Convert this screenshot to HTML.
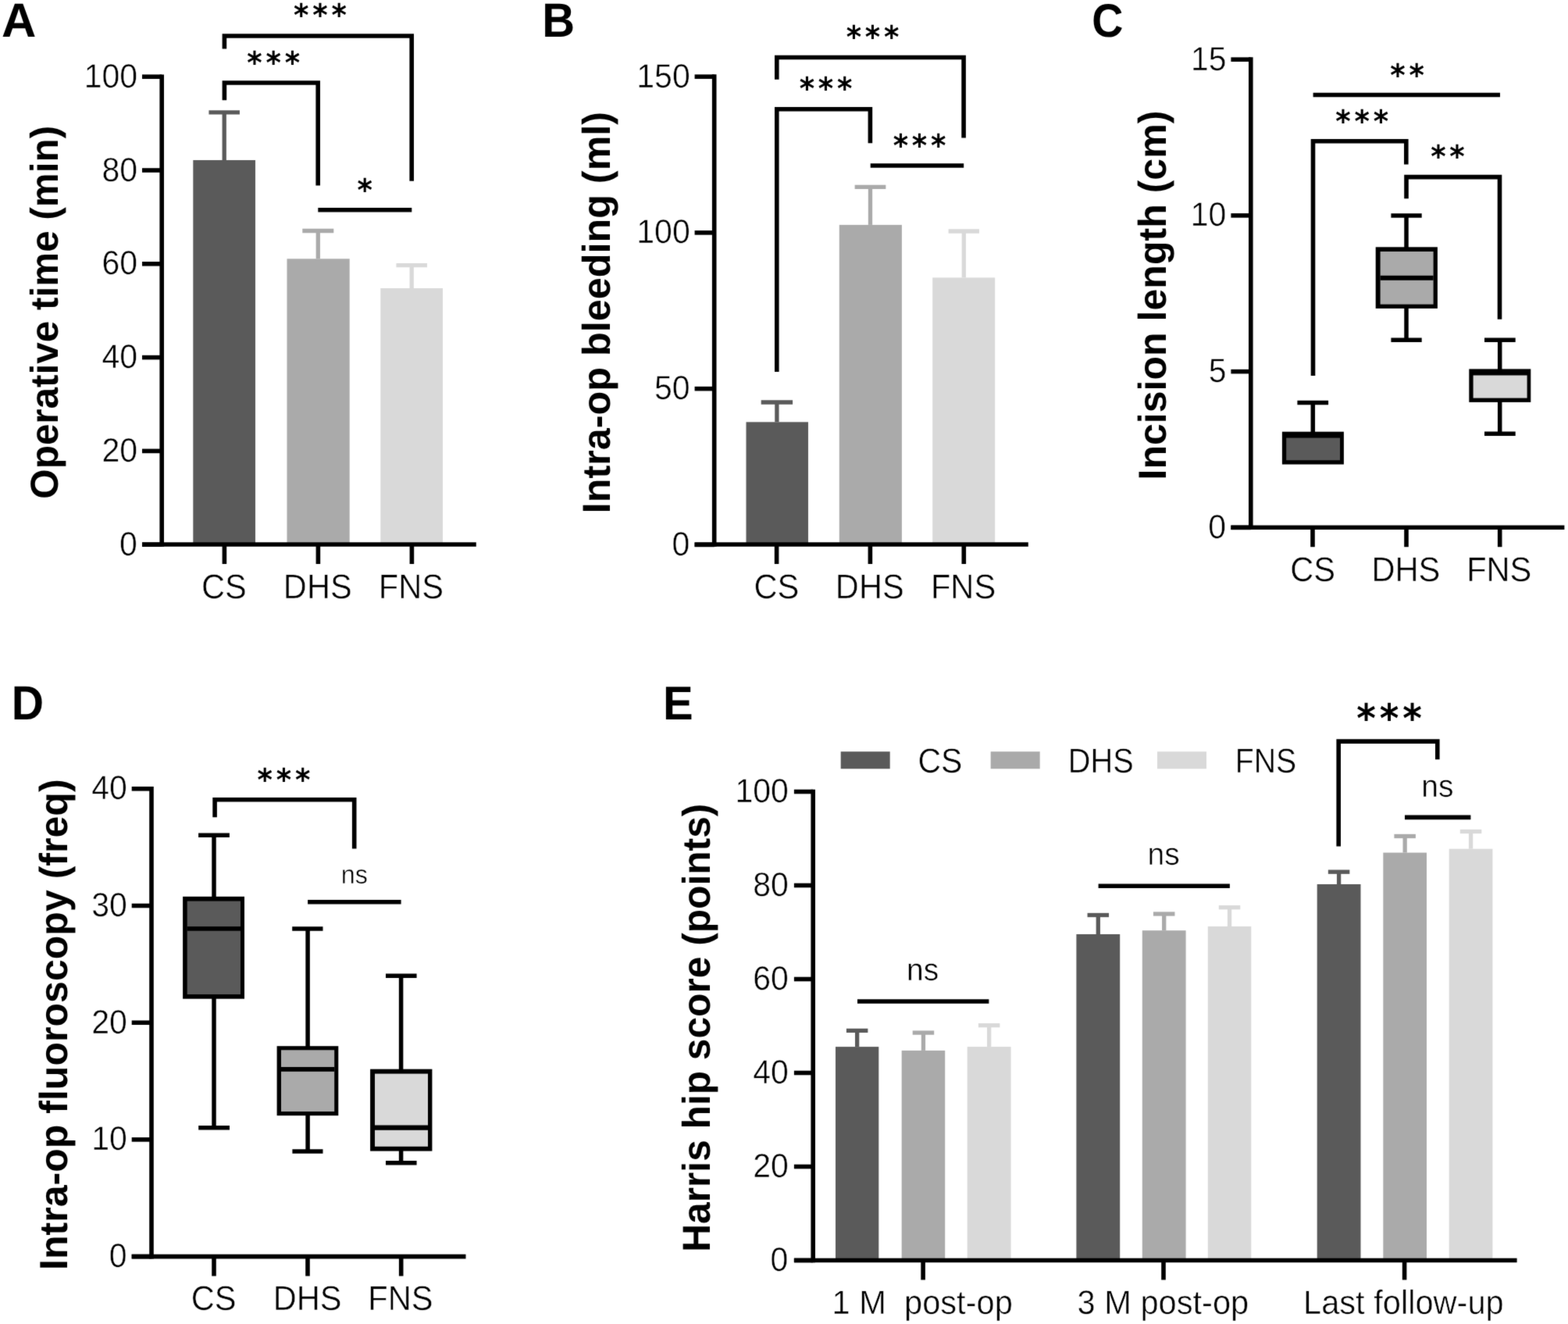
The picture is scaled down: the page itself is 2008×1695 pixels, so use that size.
<!DOCTYPE html>
<html><head><meta charset="utf-8"><title>Figure</title>
<style>html,body{margin:0;padding:0;background:#fff;} svg{display:block;} text{text-rendering:geometricPrecision;}</style></head>
<body><svg xmlns="http://www.w3.org/2000/svg" width="2008" height="1695" viewBox="0 0 2008 1695">
<defs><filter id="soft" x="0" y="0" width="2008" height="1695" filterUnits="userSpaceOnUse" color-interpolation-filters="sRGB"><feConvolveMatrix order="3" kernelMatrix="0.01134 0.08382 0.01134 0.08382 0.61935 0.08382 0.01134 0.08382 0.01134" edgeMode="duplicate"/></filter></defs>
<g filter="url(#soft)">
<rect width="2008" height="1695" fill="#fff"/>
<text transform="matrix(1.00609 0 0 1.00952 1.89 47.30)" font-family="Liberation Sans, sans-serif" font-size="61" font-weight="bold" xml:space="preserve">A</text>
<text transform="matrix(0.95063 0 0 1.00476 694.21 47.00)" font-family="Liberation Sans, sans-serif" font-size="61" font-weight="bold" xml:space="preserve">B</text>
<text transform="matrix(0.91089 0 0 0.98453 1398.30 47.01)" font-family="Liberation Sans, sans-serif" font-size="61" font-weight="bold" xml:space="preserve">C</text>
<text transform="matrix(0.93730 0 0 1.00714 14.86 921.00)" font-family="Liberation Sans, sans-serif" font-size="61" font-weight="bold" xml:space="preserve">D</text>
<text transform="matrix(0.95029 0 0 0.99524 849.01 921.10)" font-family="Liberation Sans, sans-serif" font-size="61" font-weight="bold" xml:space="preserve">E</text>
<rect x="247.30" y="205.00" width="79.70" height="492.00" fill="#5a5a5a"/>
<rect x="367.50" y="331.30" width="80.20" height="365.70" fill="#aaaaaa"/>
<rect x="487.30" y="369.00" width="79.70" height="328.00" fill="#d9d9d9"/>
<line x1="287.20" y1="205.00" x2="287.20" y2="143.80" stroke="#5a5a5a" stroke-width="5.3"/>
<line x1="267.45" y1="143.80" x2="306.95" y2="143.80" stroke="#5a5a5a" stroke-width="5.3"/>
<line x1="407.30" y1="331.30" x2="407.30" y2="295.50" stroke="#aaaaaa" stroke-width="5.3"/>
<line x1="387.30" y1="295.50" x2="427.30" y2="295.50" stroke="#aaaaaa" stroke-width="5.3"/>
<line x1="527.20" y1="369.00" x2="527.20" y2="339.60" stroke="#d9d9d9" stroke-width="5.3"/>
<line x1="507.45" y1="339.60" x2="546.95" y2="339.60" stroke="#d9d9d9" stroke-width="5.3"/>
<line x1="207.20" y1="95.40" x2="207.20" y2="699.80" stroke="#000" stroke-width="5.6"/>
<line x1="182.00" y1="98.20" x2="207.20" y2="98.20" stroke="#000" stroke-width="5.6"/>
<text transform="matrix(1.00000 0 0 1.05000 107.71 111.70)" font-family="Liberation Sans, sans-serif" font-size="41" font-weight="normal" stroke="#fff" stroke-width="0.5" stroke-linejoin="round" xml:space="preserve">100</text>
<line x1="182.00" y1="218.00" x2="207.20" y2="218.00" stroke="#000" stroke-width="5.6"/>
<text transform="matrix(1.00000 0 0 1.05000 130.44 231.50)" font-family="Liberation Sans, sans-serif" font-size="41" font-weight="normal" stroke="#fff" stroke-width="0.5" stroke-linejoin="round" xml:space="preserve">80</text>
<line x1="182.00" y1="337.80" x2="207.20" y2="337.80" stroke="#000" stroke-width="5.6"/>
<text transform="matrix(1.00000 0 0 1.05000 130.44 351.31)" font-family="Liberation Sans, sans-serif" font-size="41" font-weight="normal" stroke="#fff" stroke-width="0.5" stroke-linejoin="round" xml:space="preserve">60</text>
<line x1="182.00" y1="457.60" x2="207.20" y2="457.60" stroke="#000" stroke-width="5.6"/>
<text transform="matrix(1.00000 0 0 1.05000 130.44 471.10)" font-family="Liberation Sans, sans-serif" font-size="41" font-weight="normal" stroke="#fff" stroke-width="0.5" stroke-linejoin="round" xml:space="preserve">40</text>
<line x1="182.00" y1="577.40" x2="207.20" y2="577.40" stroke="#000" stroke-width="5.6"/>
<text transform="matrix(1.00000 0 0 1.05000 130.44 590.90)" font-family="Liberation Sans, sans-serif" font-size="41" font-weight="normal" stroke="#fff" stroke-width="0.5" stroke-linejoin="round" xml:space="preserve">20</text>
<line x1="182.00" y1="697.20" x2="207.20" y2="697.20" stroke="#000" stroke-width="5.6"/>
<text transform="matrix(1.00000 0 0 1.05000 152.91 710.71)" font-family="Liberation Sans, sans-serif" font-size="41" font-weight="normal" stroke="#fff" stroke-width="0.5" stroke-linejoin="round" xml:space="preserve">0</text>
<line x1="182.00" y1="697.00" x2="609.80" y2="697.00" stroke="#000" stroke-width="5.6"/>
<line x1="287.40" y1="697.00" x2="287.40" y2="722.00" stroke="#000" stroke-width="5.6"/>
<line x1="407.40" y1="697.00" x2="407.40" y2="722.00" stroke="#000" stroke-width="5.6"/>
<line x1="527.40" y1="697.00" x2="527.40" y2="722.00" stroke="#000" stroke-width="5.6"/>
<polyline points="287.40,62.50 287.40,46.00 527.20,46.00 527.20,231.70" fill="none" stroke="#000" stroke-width="5.6" stroke-linejoin="miter"/>
<polyline points="287.40,128.30 287.40,106.00 407.20,106.00 407.20,237.50" fill="none" stroke="#000" stroke-width="5.6" stroke-linejoin="miter"/>
<line x1="407.30" y1="268.70" x2="527.30" y2="268.70" stroke="#000" stroke-width="5.6"/>
<text transform="matrix(0.92756 0 0 0.98754 0 33.46)" x="405.37 431.46 457.55" font-family="DejaVu Sans, sans-serif" font-size="40" font-weight="bold">***</text>
<text transform="matrix(0.92756 0 0 0.98754 0 93.76)" x="340.96 367.05 393.14" font-family="DejaVu Sans, sans-serif" font-size="40" font-weight="bold">***</text>
<text transform="matrix(0.92756 0 0 0.98754 0 256.66)" x="493.29" font-family="DejaVu Sans, sans-serif" font-size="40" font-weight="bold">*</text>
<text transform="matrix(1.00000 0 0 1.05500 258.05 765.78)" font-family="Liberation Sans, sans-serif" font-size="41.6" font-weight="normal" stroke="#fff" stroke-width="0.5" stroke-linejoin="round" xml:space="preserve">CS</text>
<text transform="matrix(1.00000 0 0 1.05500 362.85 765.78)" font-family="Liberation Sans, sans-serif" font-size="41.6" font-weight="normal" stroke="#fff" stroke-width="0.5" stroke-linejoin="round" xml:space="preserve">DHS</text>
<text transform="matrix(1.00000 0 0 1.05500 484.86 765.77)" font-family="Liberation Sans, sans-serif" font-size="41.6" font-weight="normal" stroke="#fff" stroke-width="0.5" stroke-linejoin="round" xml:space="preserve">FNS</text>
<text transform="matrix(0 -0.98858 0.99912 0 74.42 638.76)" font-family="Liberation Sans, sans-serif" font-size="50" font-weight="bold" xml:space="preserve">Operative time (min)</text>
<rect x="955.50" y="540.30" width="79.50" height="156.70" fill="#5a5a5a"/>
<rect x="1074.80" y="287.90" width="80.10" height="409.10" fill="#aaaaaa"/>
<rect x="1194.20" y="355.40" width="80.00" height="341.60" fill="#d9d9d9"/>
<line x1="994.90" y1="540.30" x2="994.90" y2="515.00" stroke="#5a5a5a" stroke-width="5.3"/>
<line x1="974.70" y1="515.00" x2="1015.10" y2="515.00" stroke="#5a5a5a" stroke-width="5.3"/>
<line x1="1114.50" y1="287.90" x2="1114.50" y2="239.30" stroke="#aaaaaa" stroke-width="5.3"/>
<line x1="1094.65" y1="239.30" x2="1134.35" y2="239.30" stroke="#aaaaaa" stroke-width="5.3"/>
<line x1="1234.30" y1="355.40" x2="1234.30" y2="296.00" stroke="#d9d9d9" stroke-width="5.3"/>
<line x1="1214.60" y1="296.00" x2="1254.00" y2="296.00" stroke="#d9d9d9" stroke-width="5.3"/>
<line x1="914.70" y1="95.35" x2="914.70" y2="699.80" stroke="#000" stroke-width="5.6"/>
<line x1="889.60" y1="98.15" x2="914.70" y2="98.15" stroke="#000" stroke-width="5.6"/>
<text transform="matrix(1.00000 0 0 1.05000 815.31 111.66)" font-family="Liberation Sans, sans-serif" font-size="41" font-weight="normal" stroke="#fff" stroke-width="0.5" stroke-linejoin="round" xml:space="preserve">150</text>
<line x1="889.60" y1="297.90" x2="914.70" y2="297.90" stroke="#000" stroke-width="5.6"/>
<text transform="matrix(1.00000 0 0 1.05000 815.31 311.40)" font-family="Liberation Sans, sans-serif" font-size="41" font-weight="normal" stroke="#fff" stroke-width="0.5" stroke-linejoin="round" xml:space="preserve">100</text>
<line x1="889.60" y1="497.65" x2="914.70" y2="497.65" stroke="#000" stroke-width="5.6"/>
<text transform="matrix(1.00000 0 0 1.05000 838.04 511.15)" font-family="Liberation Sans, sans-serif" font-size="41" font-weight="normal" stroke="#fff" stroke-width="0.5" stroke-linejoin="round" xml:space="preserve">50</text>
<line x1="889.60" y1="697.40" x2="914.70" y2="697.40" stroke="#000" stroke-width="5.6"/>
<text transform="matrix(1.00000 0 0 1.05000 860.51 710.91)" font-family="Liberation Sans, sans-serif" font-size="41" font-weight="normal" stroke="#fff" stroke-width="0.5" stroke-linejoin="round" xml:space="preserve">0</text>
<line x1="889.60" y1="697.00" x2="1316.80" y2="697.00" stroke="#000" stroke-width="5.6"/>
<line x1="994.60" y1="697.00" x2="994.60" y2="722.00" stroke="#000" stroke-width="5.6"/>
<line x1="1114.40" y1="697.00" x2="1114.40" y2="722.00" stroke="#000" stroke-width="5.6"/>
<line x1="1234.30" y1="697.00" x2="1234.30" y2="722.00" stroke="#000" stroke-width="5.6"/>
<polyline points="994.80,101.70 994.80,73.50 1234.10,73.50 1234.10,176.40" fill="none" stroke="#000" stroke-width="5.6" stroke-linejoin="miter"/>
<polyline points="994.80,476.00 994.80,139.80 1114.40,139.80 1114.40,183.30" fill="none" stroke="#000" stroke-width="5.6" stroke-linejoin="miter"/>
<line x1="1114.70" y1="212.00" x2="1234.20" y2="212.00" stroke="#000" stroke-width="5.6"/>
<text transform="matrix(0.92756 0 0 0.98754 0 60.76)" x="1168.29 1194.38 1220.47" font-family="DejaVu Sans, sans-serif" font-size="40" font-weight="bold">***</text>
<text transform="matrix(0.92756 0 0 0.98754 0 127.46)" x="1103.60 1129.69 1155.78" font-family="DejaVu Sans, sans-serif" font-size="40" font-weight="bold">***</text>
<text transform="matrix(0.92756 0 0 0.98754 0 200.16)" x="1232.97 1259.06 1285.15" font-family="DejaVu Sans, sans-serif" font-size="40" font-weight="bold">***</text>
<text transform="matrix(1.00000 0 0 1.05500 965.55 765.68)" font-family="Liberation Sans, sans-serif" font-size="41.6" font-weight="normal" stroke="#fff" stroke-width="0.5" stroke-linejoin="round" xml:space="preserve">CS</text>
<text transform="matrix(1.00000 0 0 1.05500 1069.85 765.68)" font-family="Liberation Sans, sans-serif" font-size="41.6" font-weight="normal" stroke="#fff" stroke-width="0.5" stroke-linejoin="round" xml:space="preserve">DHS</text>
<text transform="matrix(1.00000 0 0 1.05500 1191.96 765.67)" font-family="Liberation Sans, sans-serif" font-size="41.6" font-weight="normal" stroke="#fff" stroke-width="0.5" stroke-linejoin="round" xml:space="preserve">FNS</text>
<text transform="matrix(0 -1.00624 1.00126 0 781.20 657.18)" font-family="Liberation Sans, sans-serif" font-size="50" font-weight="bold" xml:space="preserve">Intra-op bleeding (ml)</text>
<line x1="1681.30" y1="515.40" x2="1681.30" y2="556.00" stroke="#000" stroke-width="5.5"/>
<line x1="1661.40" y1="515.40" x2="1701.10" y2="515.40" stroke="#000" stroke-width="5.5"/>
<line x1="1801.00" y1="276.00" x2="1801.00" y2="320.00" stroke="#000" stroke-width="5.5"/>
<line x1="1781.40" y1="276.00" x2="1820.70" y2="276.00" stroke="#000" stroke-width="5.5"/>
<line x1="1801.00" y1="390.00" x2="1801.00" y2="435.30" stroke="#000" stroke-width="5.5"/>
<line x1="1781.40" y1="435.30" x2="1820.70" y2="435.30" stroke="#000" stroke-width="5.5"/>
<line x1="1920.70" y1="435.30" x2="1920.70" y2="476.00" stroke="#000" stroke-width="5.5"/>
<line x1="1901.00" y1="435.30" x2="1940.70" y2="435.30" stroke="#000" stroke-width="5.5"/>
<line x1="1920.70" y1="510.00" x2="1920.70" y2="555.20" stroke="#000" stroke-width="5.5"/>
<line x1="1901.00" y1="555.20" x2="1940.70" y2="555.20" stroke="#000" stroke-width="5.5"/>
<rect x="1641.90" y="552.70" width="79.00" height="41.80" fill="#000"/>
<rect x="1647.20" y="560.60" width="68.80" height="28.60" fill="#5a5a5a"/>
<rect x="1761.70" y="316.30" width="79.20" height="78.60" fill="#000"/>
<rect x="1767.60" y="322.00" width="68.00" height="67.60" fill="#aaaaaa"/>
<rect x="1767.60" y="352.80" width="68.00" height="6.00" fill="#000"/>
<rect x="1881.30" y="472.40" width="79.00" height="42.50" fill="#000"/>
<rect x="1886.60" y="480.50" width="69.00" height="29.10" fill="#d9d9d9"/>
<line x1="1601.80" y1="73.35" x2="1601.80" y2="678.00" stroke="#000" stroke-width="5.6"/>
<line x1="1576.40" y1="76.15" x2="1601.80" y2="76.15" stroke="#000" stroke-width="5.6"/>
<text transform="matrix(1.00000 0 0 1.05000 1524.97 89.62)" font-family="Liberation Sans, sans-serif" font-size="41" font-weight="normal" stroke="#fff" stroke-width="0.5" stroke-linejoin="round" xml:space="preserve">15</text>
<line x1="1576.40" y1="275.90" x2="1601.80" y2="275.90" stroke="#000" stroke-width="5.6"/>
<text transform="matrix(1.00000 0 0 1.05000 1524.74 289.40)" font-family="Liberation Sans, sans-serif" font-size="41" font-weight="normal" stroke="#fff" stroke-width="0.5" stroke-linejoin="round" xml:space="preserve">10</text>
<line x1="1576.40" y1="475.65" x2="1601.80" y2="475.65" stroke="#000" stroke-width="5.6"/>
<text transform="matrix(1.00000 0 0 1.05000 1547.63 489.12)" font-family="Liberation Sans, sans-serif" font-size="41" font-weight="normal" stroke="#fff" stroke-width="0.5" stroke-linejoin="round" xml:space="preserve">5</text>
<line x1="1576.40" y1="675.40" x2="1601.80" y2="675.40" stroke="#000" stroke-width="5.6"/>
<text transform="matrix(1.00000 0 0 1.05000 1547.21 688.91)" font-family="Liberation Sans, sans-serif" font-size="41" font-weight="normal" stroke="#fff" stroke-width="0.5" stroke-linejoin="round" xml:space="preserve">0</text>
<line x1="1576.40" y1="675.20" x2="2003.40" y2="675.20" stroke="#000" stroke-width="5.6"/>
<line x1="1681.00" y1="675.20" x2="1681.00" y2="700.20" stroke="#000" stroke-width="5.6"/>
<line x1="1801.00" y1="675.20" x2="1801.00" y2="700.20" stroke="#000" stroke-width="5.6"/>
<line x1="1920.70" y1="675.20" x2="1920.70" y2="700.20" stroke="#000" stroke-width="5.6"/>
<line x1="1681.60" y1="121.50" x2="1921.00" y2="121.50" stroke="#000" stroke-width="5.6"/>
<polyline points="1681.50,480.90 1681.50,180.80 1800.80,180.80 1800.80,210.40" fill="none" stroke="#000" stroke-width="5.6" stroke-linejoin="miter"/>
<polyline points="1801.00,254.20 1801.00,226.60 1920.50,226.60 1920.50,408.70" fill="none" stroke="#000" stroke-width="5.6" stroke-linejoin="miter"/>
<text transform="matrix(0.92756 0 0 0.98754 0 109.66)" x="1919.40 1945.49" font-family="DejaVu Sans, sans-serif" font-size="40" font-weight="bold">**</text>
<text transform="matrix(0.92756 0 0 0.98754 0 168.86)" x="1843.82 1869.91 1896.00" font-family="DejaVu Sans, sans-serif" font-size="40" font-weight="bold">***</text>
<text transform="matrix(0.92756 0 0 0.98754 0 214.26)" x="1975.24 2001.33" font-family="DejaVu Sans, sans-serif" font-size="40" font-weight="bold">**</text>
<text transform="matrix(1.00000 0 0 1.05500 1652.25 743.88)" font-family="Liberation Sans, sans-serif" font-size="41.6" font-weight="normal" stroke="#fff" stroke-width="0.5" stroke-linejoin="round" xml:space="preserve">CS</text>
<text transform="matrix(1.00000 0 0 1.05500 1756.45 743.88)" font-family="Liberation Sans, sans-serif" font-size="41.6" font-weight="normal" stroke="#fff" stroke-width="0.5" stroke-linejoin="round" xml:space="preserve">DHS</text>
<text transform="matrix(1.00000 0 0 1.05500 1878.16 743.87)" font-family="Liberation Sans, sans-serif" font-size="41.6" font-weight="normal" stroke="#fff" stroke-width="0.5" stroke-linejoin="round" xml:space="preserve">FNS</text>
<text transform="matrix(0 -1.00119 1.00340 0 1493.07 614.46)" font-family="Liberation Sans, sans-serif" font-size="50" font-weight="bold" xml:space="preserve">Incision length (cm)</text>
<line x1="274.00" y1="1069.30" x2="274.00" y2="1150.00" stroke="#000" stroke-width="5.5"/>
<line x1="254.10" y1="1069.30" x2="293.90" y2="1069.30" stroke="#000" stroke-width="5.5"/>
<line x1="274.00" y1="1276.00" x2="274.00" y2="1443.70" stroke="#000" stroke-width="5.5"/>
<line x1="254.20" y1="1443.70" x2="294.00" y2="1443.70" stroke="#000" stroke-width="5.5"/>
<line x1="394.10" y1="1188.90" x2="394.10" y2="1342.00" stroke="#000" stroke-width="5.5"/>
<line x1="374.20" y1="1188.90" x2="413.50" y2="1188.90" stroke="#000" stroke-width="5.5"/>
<line x1="394.10" y1="1426.00" x2="394.10" y2="1474.00" stroke="#000" stroke-width="5.5"/>
<line x1="374.40" y1="1474.00" x2="413.50" y2="1474.00" stroke="#000" stroke-width="5.5"/>
<line x1="513.60" y1="1249.30" x2="513.60" y2="1371.00" stroke="#000" stroke-width="5.5"/>
<line x1="494.00" y1="1249.30" x2="533.60" y2="1249.30" stroke="#000" stroke-width="5.5"/>
<line x1="513.60" y1="1471.00" x2="513.60" y2="1488.70" stroke="#000" stroke-width="5.5"/>
<line x1="494.00" y1="1488.70" x2="533.60" y2="1488.70" stroke="#000" stroke-width="5.5"/>
<rect x="234.10" y="1147.80" width="78.90" height="130.90" fill="#000"/>
<rect x="239.70" y="1153.60" width="68.30" height="119.40" fill="#5a5a5a"/>
<rect x="239.70" y="1186.10" width="68.30" height="5.60" fill="#000"/>
<rect x="354.60" y="1339.20" width="78.70" height="89.00" fill="#000"/>
<rect x="360.00" y="1344.30" width="68.20" height="78.70" fill="#aaaaaa"/>
<rect x="360.00" y="1366.00" width="68.20" height="5.80" fill="#000"/>
<rect x="474.10" y="1368.70" width="79.30" height="104.90" fill="#000"/>
<rect x="480.00" y="1374.60" width="68.00" height="93.20" fill="#d9d9d9"/>
<rect x="480.00" y="1440.50" width="68.00" height="6.30" fill="#000"/>
<line x1="194.00" y1="1007.00" x2="194.00" y2="1611.40" stroke="#000" stroke-width="5.6"/>
<line x1="168.70" y1="1009.80" x2="194.00" y2="1009.80" stroke="#000" stroke-width="5.6"/>
<text transform="matrix(1.00000 0 0 1.05000 117.24 1023.30)" font-family="Liberation Sans, sans-serif" font-size="41" font-weight="normal" stroke="#fff" stroke-width="0.5" stroke-linejoin="round" xml:space="preserve">40</text>
<line x1="168.70" y1="1159.50" x2="194.00" y2="1159.50" stroke="#000" stroke-width="5.6"/>
<text transform="matrix(1.00000 0 0 1.05000 117.24 1173.00)" font-family="Liberation Sans, sans-serif" font-size="41" font-weight="normal" stroke="#fff" stroke-width="0.5" stroke-linejoin="round" xml:space="preserve">30</text>
<line x1="168.70" y1="1309.20" x2="194.00" y2="1309.20" stroke="#000" stroke-width="5.6"/>
<text transform="matrix(1.00000 0 0 1.05000 117.24 1322.70)" font-family="Liberation Sans, sans-serif" font-size="41" font-weight="normal" stroke="#fff" stroke-width="0.5" stroke-linejoin="round" xml:space="preserve">20</text>
<line x1="168.70" y1="1458.90" x2="194.00" y2="1458.90" stroke="#000" stroke-width="5.6"/>
<text transform="matrix(1.00000 0 0 1.05000 117.24 1472.40)" font-family="Liberation Sans, sans-serif" font-size="41" font-weight="normal" stroke="#fff" stroke-width="0.5" stroke-linejoin="round" xml:space="preserve">10</text>
<line x1="168.70" y1="1608.60" x2="194.00" y2="1608.60" stroke="#000" stroke-width="5.6"/>
<text transform="matrix(1.00000 0 0 1.05000 139.71 1622.11)" font-family="Liberation Sans, sans-serif" font-size="41" font-weight="normal" stroke="#fff" stroke-width="0.5" stroke-linejoin="round" xml:space="preserve">0</text>
<line x1="168.70" y1="1608.60" x2="596.50" y2="1608.60" stroke="#000" stroke-width="5.6"/>
<line x1="274.00" y1="1608.60" x2="274.00" y2="1633.60" stroke="#000" stroke-width="5.6"/>
<line x1="394.00" y1="1608.60" x2="394.00" y2="1633.60" stroke="#000" stroke-width="5.6"/>
<line x1="513.70" y1="1608.60" x2="513.70" y2="1633.60" stroke="#000" stroke-width="5.6"/>
<polyline points="275.10,1046.30 275.10,1023.70 453.70,1023.70 453.70,1086.50" fill="none" stroke="#000" stroke-width="5.6" stroke-linejoin="miter"/>
<line x1="394.10" y1="1154.70" x2="513.60" y2="1154.70" stroke="#000" stroke-width="5.6"/>
<text transform="matrix(0.92756 0 0 0.98754 0 1011.66)" x="355.35 381.44 407.53" font-family="DejaVu Sans, sans-serif" font-size="40" font-weight="bold">***</text>
<text transform="matrix(1.00000 0 0 1.03000 436.74 1131.05)" font-family="Liberation Sans, sans-serif" font-size="32.5" font-weight="normal" stroke="#fff" stroke-width="0.5" stroke-linejoin="round" xml:space="preserve">ns</text>
<text transform="matrix(1.00000 0 0 1.05500 244.75 1677.28)" font-family="Liberation Sans, sans-serif" font-size="41.6" font-weight="normal" stroke="#fff" stroke-width="0.5" stroke-linejoin="round" xml:space="preserve">CS</text>
<text transform="matrix(1.00000 0 0 1.05500 349.75 1677.28)" font-family="Liberation Sans, sans-serif" font-size="41.6" font-weight="normal" stroke="#fff" stroke-width="0.5" stroke-linejoin="round" xml:space="preserve">DHS</text>
<text transform="matrix(1.00000 0 0 1.05500 471.26 1677.27)" font-family="Liberation Sans, sans-serif" font-size="41.6" font-weight="normal" stroke="#fff" stroke-width="0.5" stroke-linejoin="round" xml:space="preserve">FNS</text>
<text transform="matrix(0 -1.00119 1.00768 0 86.43 1625.96)" font-family="Liberation Sans, sans-serif" font-size="50" font-weight="bold" xml:space="preserve">Intra-op fluoroscopy (freq)</text>
<rect x="1070.00" y="1340.10" width="55.30" height="273.40" fill="#5a5a5a"/>
<line x1="1097.65" y1="1340.10" x2="1097.65" y2="1319.40" stroke="#5a5a5a" stroke-width="5.3"/>
<line x1="1083.90" y1="1319.40" x2="1111.40" y2="1319.40" stroke="#5a5a5a" stroke-width="5.3"/>
<rect x="1154.70" y="1344.90" width="55.50" height="268.60" fill="#aaaaaa"/>
<line x1="1182.45" y1="1344.90" x2="1182.45" y2="1322.10" stroke="#aaaaaa" stroke-width="5.3"/>
<line x1="1168.70" y1="1322.10" x2="1196.20" y2="1322.10" stroke="#aaaaaa" stroke-width="5.3"/>
<rect x="1238.70" y="1340.10" width="55.90" height="273.40" fill="#d9d9d9"/>
<line x1="1266.65" y1="1340.10" x2="1266.65" y2="1312.70" stroke="#d9d9d9" stroke-width="5.3"/>
<line x1="1252.90" y1="1312.70" x2="1280.40" y2="1312.70" stroke="#d9d9d9" stroke-width="5.3"/>
<rect x="1378.40" y="1196.00" width="55.80" height="417.50" fill="#5a5a5a"/>
<line x1="1406.30" y1="1196.00" x2="1406.30" y2="1171.50" stroke="#5a5a5a" stroke-width="5.3"/>
<line x1="1392.55" y1="1171.50" x2="1420.05" y2="1171.50" stroke="#5a5a5a" stroke-width="5.3"/>
<rect x="1462.80" y="1191.20" width="55.80" height="422.30" fill="#aaaaaa"/>
<line x1="1490.70" y1="1191.20" x2="1490.70" y2="1170.00" stroke="#aaaaaa" stroke-width="5.3"/>
<line x1="1476.95" y1="1170.00" x2="1504.45" y2="1170.00" stroke="#aaaaaa" stroke-width="5.3"/>
<rect x="1546.80" y="1186.00" width="55.50" height="427.50" fill="#d9d9d9"/>
<line x1="1574.55" y1="1186.00" x2="1574.55" y2="1161.70" stroke="#d9d9d9" stroke-width="5.3"/>
<line x1="1560.80" y1="1161.70" x2="1588.30" y2="1161.70" stroke="#d9d9d9" stroke-width="5.3"/>
<rect x="1686.70" y="1132.00" width="55.80" height="481.50" fill="#5a5a5a"/>
<line x1="1714.60" y1="1132.00" x2="1714.60" y2="1116.20" stroke="#5a5a5a" stroke-width="5.3"/>
<line x1="1700.85" y1="1116.20" x2="1728.35" y2="1116.20" stroke="#5a5a5a" stroke-width="5.3"/>
<rect x="1771.30" y="1091.60" width="55.70" height="521.90" fill="#aaaaaa"/>
<line x1="1799.15" y1="1091.60" x2="1799.15" y2="1070.50" stroke="#aaaaaa" stroke-width="5.3"/>
<line x1="1785.40" y1="1070.50" x2="1812.90" y2="1070.50" stroke="#aaaaaa" stroke-width="5.3"/>
<rect x="1855.70" y="1086.70" width="55.70" height="526.80" fill="#d9d9d9"/>
<line x1="1883.55" y1="1086.70" x2="1883.55" y2="1064.50" stroke="#d9d9d9" stroke-width="5.3"/>
<line x1="1869.80" y1="1064.50" x2="1897.30" y2="1064.50" stroke="#d9d9d9" stroke-width="5.3"/>
<line x1="1041.20" y1="1010.70" x2="1041.20" y2="1616.30" stroke="#000" stroke-width="5.6"/>
<line x1="1016.90" y1="1013.50" x2="1041.20" y2="1013.50" stroke="#000" stroke-width="5.6"/>
<text transform="matrix(1.00000 0 0 1.05000 941.41 1027.05)" font-family="Liberation Sans, sans-serif" font-size="41" font-weight="normal" stroke="#fff" stroke-width="0.5" stroke-linejoin="round" xml:space="preserve">100</text>
<line x1="1016.90" y1="1133.50" x2="1041.20" y2="1133.50" stroke="#000" stroke-width="5.6"/>
<text transform="matrix(1.00000 0 0 1.05000 964.14 1147.05)" font-family="Liberation Sans, sans-serif" font-size="41" font-weight="normal" stroke="#fff" stroke-width="0.5" stroke-linejoin="round" xml:space="preserve">80</text>
<line x1="1016.90" y1="1253.50" x2="1041.20" y2="1253.50" stroke="#000" stroke-width="5.6"/>
<text transform="matrix(1.00000 0 0 1.05000 964.14 1267.06)" font-family="Liberation Sans, sans-serif" font-size="41" font-weight="normal" stroke="#fff" stroke-width="0.5" stroke-linejoin="round" xml:space="preserve">60</text>
<line x1="1016.90" y1="1373.50" x2="1041.20" y2="1373.50" stroke="#000" stroke-width="5.6"/>
<text transform="matrix(1.00000 0 0 1.05000 964.14 1387.05)" font-family="Liberation Sans, sans-serif" font-size="41" font-weight="normal" stroke="#fff" stroke-width="0.5" stroke-linejoin="round" xml:space="preserve">40</text>
<line x1="1016.90" y1="1493.50" x2="1041.20" y2="1493.50" stroke="#000" stroke-width="5.6"/>
<text transform="matrix(1.00000 0 0 1.05000 964.14 1507.05)" font-family="Liberation Sans, sans-serif" font-size="41" font-weight="normal" stroke="#fff" stroke-width="0.5" stroke-linejoin="round" xml:space="preserve">20</text>
<line x1="1016.90" y1="1613.50" x2="1041.20" y2="1613.50" stroke="#000" stroke-width="5.6"/>
<text transform="matrix(1.00000 0 0 1.05000 986.61 1627.06)" font-family="Liberation Sans, sans-serif" font-size="41" font-weight="normal" stroke="#fff" stroke-width="0.5" stroke-linejoin="round" xml:space="preserve">0</text>
<line x1="1016.90" y1="1613.50" x2="1942.60" y2="1613.50" stroke="#000" stroke-width="5.6"/>
<line x1="1182.10" y1="1613.50" x2="1182.10" y2="1638.50" stroke="#000" stroke-width="5.6"/>
<line x1="1490.00" y1="1613.50" x2="1490.00" y2="1638.50" stroke="#000" stroke-width="5.6"/>
<line x1="1798.60" y1="1613.50" x2="1798.60" y2="1638.50" stroke="#000" stroke-width="5.6"/>
<line x1="1098.00" y1="1282.00" x2="1266.40" y2="1282.00" stroke="#000" stroke-width="5.6"/>
<line x1="1406.60" y1="1134.20" x2="1574.90" y2="1134.20" stroke="#000" stroke-width="5.6"/>
<line x1="1799.00" y1="1046.40" x2="1883.40" y2="1046.40" stroke="#000" stroke-width="5.6"/>
<polyline points="1714.20,1083.50 1714.20,949.10 1840.80,949.10 1840.80,972.30" fill="none" stroke="#000" stroke-width="5.6" stroke-linejoin="miter"/>
<text transform="matrix(1.17668 0 0 1.25445 0 936.90)" x="1476.33 1501.49 1526.64" font-family="DejaVu Sans, sans-serif" font-size="40" font-weight="bold">***</text>
<text transform="matrix(1.00000 0 0 1.03000 1161.09 1255.38)" font-family="Liberation Sans, sans-serif" font-size="39" font-weight="normal" stroke="#fff" stroke-width="0.5" stroke-linejoin="round" xml:space="preserve">ns</text>
<text transform="matrix(1.00000 0 0 1.03000 1469.49 1106.58)" font-family="Liberation Sans, sans-serif" font-size="39" font-weight="normal" stroke="#fff" stroke-width="0.5" stroke-linejoin="round" xml:space="preserve">ns</text>
<text transform="matrix(1.00000 0 0 1.03000 1820.29 1019.58)" font-family="Liberation Sans, sans-serif" font-size="39" font-weight="normal" stroke="#fff" stroke-width="0.5" stroke-linejoin="round" xml:space="preserve">ns</text>
<rect x="1076.70" y="962.20" width="63.00" height="22.00" fill="#5a5a5a"/>
<rect x="1268.70" y="962.20" width="63.00" height="22.00" fill="#aaaaaa"/>
<rect x="1482.00" y="962.20" width="63.00" height="22.00" fill="#d9d9d9"/>
<text transform="matrix(0.98412 0 0 1.06149 1175.51 988.88)" font-family="Liberation Sans, sans-serif" font-size="41.6" font-weight="normal" stroke="#fff" stroke-width="0.5" stroke-linejoin="round" xml:space="preserve">CS</text>
<text transform="matrix(0.95565 0 0 1.05802 1367.72 988.88)" font-family="Liberation Sans, sans-serif" font-size="41.6" font-weight="normal" stroke="#fff" stroke-width="0.5" stroke-linejoin="round" xml:space="preserve">DHS</text>
<text transform="matrix(0.94339 0 0 1.05701 1581.67 988.87)" font-family="Liberation Sans, sans-serif" font-size="41.6" font-weight="normal" stroke="#fff" stroke-width="0.5" stroke-linejoin="round" xml:space="preserve">FNS</text>
<text transform="matrix(1.00000 0 0 1.03500 1065.58 1682.07)" font-family="Liberation Sans, sans-serif" font-size="41.6" font-weight="normal" stroke="#fff" stroke-width="0.5" stroke-linejoin="round" xml:space="preserve">1 M  post-op</text>
<text transform="matrix(1.00000 0 0 1.03500 1379.52 1682.07)" font-family="Liberation Sans, sans-serif" font-size="41.6" font-weight="normal" stroke="#fff" stroke-width="0.5" stroke-linejoin="round" xml:space="preserve">3 M post-op</text>
<text transform="matrix(1.00000 0 0 1.03500 1669.05 1682.07)" font-family="Liberation Sans, sans-serif" font-size="41.6" font-weight="normal" stroke="#fff" stroke-width="0.5" stroke-linejoin="round" xml:space="preserve">Last follow-up</text>
<text transform="matrix(0 -0.99352 0.99912 0 909.12 1602.84)" font-family="Liberation Sans, sans-serif" font-size="50" font-weight="bold" xml:space="preserve">Harris hip score (points)</text>
</g>
</svg></body></html>
